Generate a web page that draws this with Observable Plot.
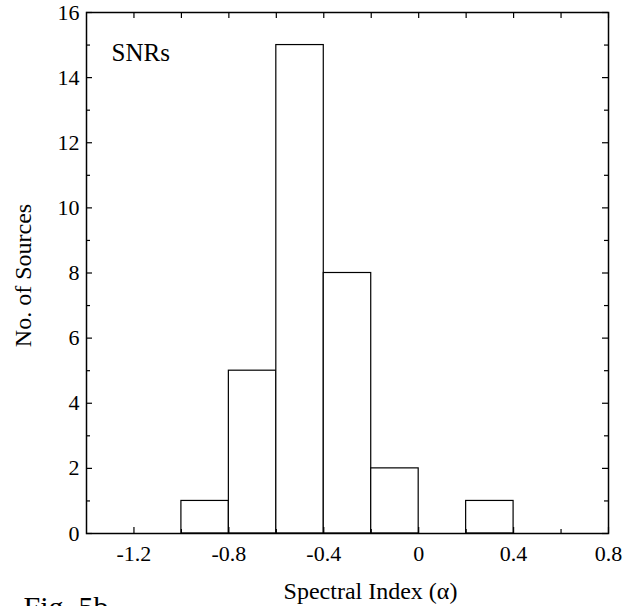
<!DOCTYPE html>
<html>
<head>
<meta charset="utf-8">
<script src="https://cdn.jsdelivr.net/npm/d3@7"></script>
<script src="https://cdn.jsdelivr.net/npm/@observablehq/plot@0.6"></script>
<style>
  html, body { margin: 0; padding: 0; background: white; overflow: hidden; }
</style>
</head>
<body>
<div id="chart"></div>
<script>
// Histogram bins (spectral index) and counts
const binStart = [-1.0, -0.8, -0.6, -0.4, -0.2, 0.2];
const binEnd   = [-0.8, -0.6, -0.4, -0.2,  0.0, 0.4];
const counts   = [1, 5, 15, 8, 2, 1];

// Axis ticks
const xMajorTicks = [-1.2, -0.8, -0.4, 0, 0.4, 0.8];
const xMinorTicks = [-1.0, -0.6, -0.2, 0.2, 0.6];
const yMajorTicks = [0, 2, 4, 6, 8, 10, 12, 14, 16];
const yMinorTicks = [1, 3, 5, 7, 9, 11, 13, 15];

const bins = binStart.map((s, i) => ({x1: s, x2: binEnd[i], y: counts[i]}));

const W = 637, H = 606;
const mL = 86, mR = 29, mT = 12, mB = 73;
const fw = W - mL - mR, fh = H - mT - mB;
const font = "Liberation Serif, Times New Roman, serif";

const chart = Plot.plot({
  width: W,
  height: H,
  marginLeft: mL,
  marginRight: mR,
  marginTop: mT,
  marginBottom: mB,
  style: {fontFamily: font, fontSize: "22px", color: "black", background: "white"},
  x: {domain: [-1.4, 0.8], axis: null},
  y: {domain: [0, 16], axis: null},
  marks: [
    Plot.rectY(bins, {x1: "x1", x2: "x2", y: "y", fill: "white", stroke: "black", strokeWidth: 1.2}),
    // inward tick marks
    Plot.tickX(xMajorTicks, {x: d => d, insetTop: fh - 6, stroke: "black", strokeWidth: 1.2}),
    Plot.tickX(xMinorTicks, {x: d => d, insetTop: fh - 4, stroke: "black", strokeWidth: 1.2}),
    Plot.tickX(xMajorTicks.concat(xMinorTicks), {x: d => d, insetBottom: fh - 6, stroke: "black", strokeWidth: 1.2}),
    Plot.tickY(yMajorTicks, {y: d => d, insetRight: fw - 6, stroke: "black", strokeWidth: 1.2}),
    Plot.tickY(yMinorTicks, {y: d => d, insetRight: fw - 4, stroke: "black", strokeWidth: 1.2}),
    Plot.tickY(yMajorTicks, {y: d => d, insetLeft: fw - 6, stroke: "black", strokeWidth: 1.2}),
    Plot.tickY(yMinorTicks, {y: d => d, insetLeft: fw - 4, stroke: "black", strokeWidth: 1.2}),
    Plot.frame({stroke: "black", strokeWidth: 1.5}),
    // tick labels
    Plot.axisX({ticks: xMajorTicks, tickSize: 0, tickPadding: 12, tickFormat: d => String(d), label: null, fontSize: 22}),
    Plot.axisY({ticks: yMajorTicks, tickSize: 0, tickPadding: 7, tickFormat: d => String(d), label: null, fontSize: 22}),
    // texts
    Plot.text(["SNRs"], {frameAnchor: "top-left", text: d => d, dx: 25, dy: 31, lineAnchor: "top", textAnchor: "start", fontSize: 25, fill: "black"}),
    Plot.text(["Spectral Index (\u03b1)"], {frameAnchor: "bottom", text: d => d, dx: 23, dy: 48, lineAnchor: "top", fontSize: 24, fill: "black"}),
    Plot.text(["No. of Sources"], {frameAnchor: "left", text: d => d, dx: -63, dy: 2.5, rotate: -90, lineAnchor: "middle", textAnchor: "middle", fontSize: 24, fill: "black"}),
    Plot.text(["Fig. 5b"], {frameAnchor: "bottom-left", text: d => d, dx: -63, dy: 62, lineAnchor: "top", textAnchor: "start", fontSize: 30, fill: "black"})
  ]
});
document.getElementById("chart").appendChild(chart);
</script>
</body>
</html>
